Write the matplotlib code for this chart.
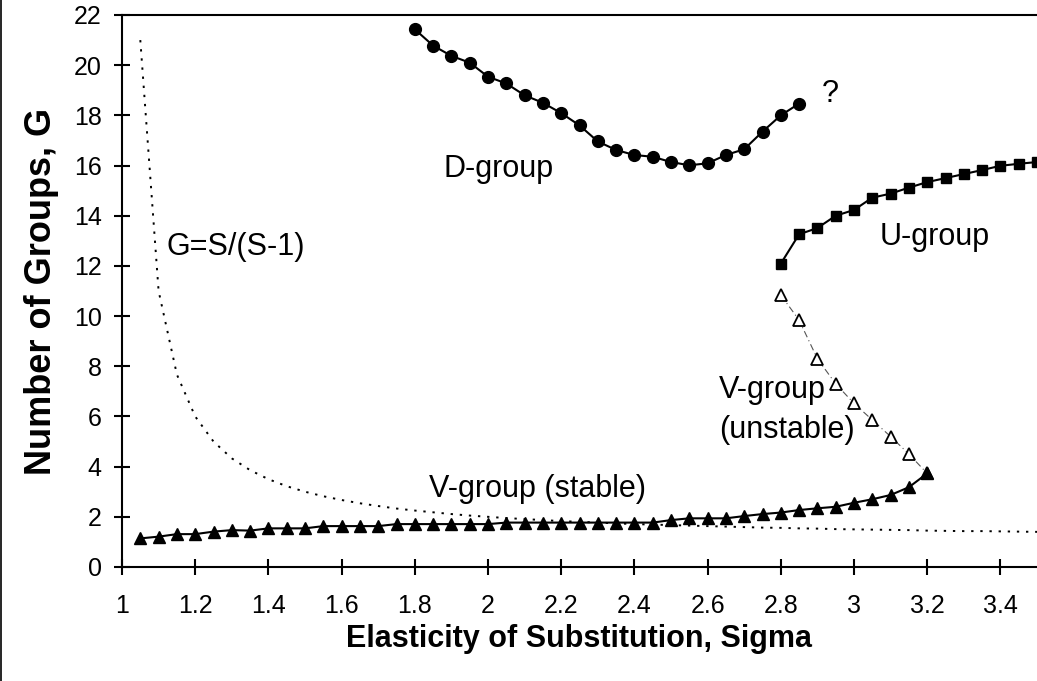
import numpy as np
import matplotlib
matplotlib.use('Agg')
import matplotlib.pyplot as plt
from matplotlib.lines import Line2D

plt.rcParams['font.family'] = ['Liberation Sans', 'DejaVu Sans']

# D-group (filled circles)
d_sigma = [1.80, 1.85, 1.90, 1.95, 2.00, 2.05, 2.10, 2.15, 2.20, 2.25, 2.30,
           2.35, 2.40, 2.45, 2.50, 2.55, 2.60, 2.65, 2.70, 2.75, 2.80, 2.85]
d_groups = [21.43, 20.78, 20.37, 20.10, 19.54, 19.27, 18.80, 18.50, 18.09, 17.60, 16.96,
            16.62, 16.42, 16.35, 16.14, 16.01, 16.09, 16.42, 16.65, 17.35, 18.00, 18.47]

# U-group (filled squares)
u_sigma = [2.80, 2.85, 2.90, 2.95, 3.00, 3.05, 3.10, 3.15, 3.20, 3.25, 3.30,
           3.35, 3.40, 3.45, 3.50]
u_groups = [12.09, 13.26, 13.51, 14.00, 14.23, 14.72, 14.88, 15.12, 15.34, 15.50, 15.66,
            15.82, 15.99, 16.07, 16.14]

# V-group stable (filled triangles)
vs_sigma = [1.05, 1.10, 1.15, 1.20, 1.25, 1.30, 1.35, 1.40, 1.45, 1.50, 1.55,
            1.60, 1.65, 1.70, 1.75, 1.80, 1.85, 1.90, 1.95, 2.00, 2.05, 2.10,
            2.15, 2.20, 2.25, 2.30, 2.35, 2.40, 2.45, 2.50, 2.55, 2.60, 2.65,
            2.70, 2.75, 2.80, 2.85, 2.90, 2.95, 3.00, 3.05, 3.10, 3.15, 3.20]
vs_groups = [1.14, 1.21, 1.31, 1.31, 1.41, 1.47, 1.45, 1.54, 1.54, 1.54, 1.63,
             1.63, 1.63, 1.63, 1.71, 1.71, 1.71, 1.71, 1.71, 1.71, 1.77, 1.77,
             1.77, 1.77, 1.77, 1.77, 1.77, 1.77, 1.77, 1.87, 1.94, 1.94, 1.94,
             2.03, 2.11, 2.17, 2.27, 2.34, 2.40, 2.56, 2.70, 2.87, 3.18, 3.73]

# V-group unstable (open triangles)
vu_sigma = [2.80, 2.85, 2.90, 2.95, 3.00, 3.05, 3.10, 3.15, 3.20]
vu_groups = [10.84, 9.84, 8.30, 7.30, 6.52, 5.86, 5.20, 4.50, 3.73]

# G = S/(S-1) curve
g_sigma = [1.05, 1.10, 1.15, 1.20, 1.25, 1.30, 1.35, 1.40, 1.45, 1.50, 1.55,
           1.60, 1.65, 1.70, 1.75, 1.80, 1.85, 1.90, 1.95, 2.00, 2.05, 2.10,
           2.15, 2.20, 2.25, 2.30, 2.35, 2.40, 2.45, 2.50, 2.55, 2.60, 2.65,
           2.70, 2.75, 2.80, 2.85, 2.90, 2.95, 3.00, 3.05, 3.10, 3.15, 3.20,
           3.25, 3.30, 3.35, 3.40, 3.45, 3.50]
g_groups = [21.0, 11.0, 7.67, 6.0, 5.0, 4.33, 3.86, 3.5, 3.22, 3.0, 2.82,
            2.67, 2.54, 2.43, 2.33, 2.25, 2.18, 2.11, 2.05, 2.0, 1.95, 1.91,
            1.87, 1.83, 1.8, 1.77, 1.74, 1.71, 1.69, 1.67, 1.65, 1.63, 1.61,
            1.59, 1.57, 1.56, 1.54, 1.53, 1.51, 1.5, 1.49, 1.48, 1.47, 1.45,
            1.44, 1.43, 1.43, 1.42, 1.41, 1.4]

xticks = [1, 1.2, 1.4, 1.6, 1.8, 2, 2.2, 2.4, 2.6, 2.8, 3, 3.2, 3.4]
xticklabels = ['1', '1.2', '1.4', '1.6', '1.8', '2', '2.2', '2.4', '2.6', '2.8', '3', '3.2', '3.4']
yticks = list(range(0, 23, 2))

fig = plt.figure(figsize=(10.37, 6.81), dpi=100)
ax = fig.add_axes([122 / 1037, 1 - 567 / 681, 915 / 1037, 552 / 681])

ax.plot(g_sigma, g_groups, color='black', lw=1.4, ls=(0, (1.2, 3.5)))
ax.plot(vu_sigma, vu_groups, color='#555555', lw=0.8, ls=(0, (6, 3, 1, 3)),
        marker='^', ms=8, mfc='white', mec='black', mew=1.3)
ax.plot(vs_sigma, vs_groups, color='black', lw=1.5, marker='^', ms=9)
ax.plot(u_sigma, u_groups, color='black', lw=1.5, marker='s', ms=6.5, clip_on=False)
ax.plot(d_sigma, d_groups, color='black', lw=1.5, marker='o', ms=8.5)

ax.set_xlim(1, 3.5)
ax.set_ylim(0, 22)
ax.set_xticks(xticks)
ax.set_xticklabels(xticklabels)
ax.set_yticks(yticks)
ax.tick_params(direction='inout', length=11.5, width=1.5, labelsize=18)
ax.tick_params(axis='x', pad=14)
ax.tick_params(axis='y', pad=9)
for side in ['left', 'bottom', 'top']:
    ax.spines[side].set_linewidth(1.5)
ax.spines['right'].set_visible(False)

ax.set_xlabel('Elasticity of Substitution, Sigma', fontsize=22, fontweight='bold')
ax.set_ylabel('Number of Groups, G', fontsize=26, fontweight='bold')
ax.xaxis.set_label_coords(0.5, -0.1025)
ax.yaxis.set_label_coords(-0.069, 0.50)

lab = dict(fontsize=22, color='black', va='baseline')
ax.text(1.878, 15.56, 'D-group', ha='left', **lab)
ax.text(2.911, 18.55, '?', ha='left', **lab)
ax.text(3.069, 12.83, 'U-group', ha='left', **lab)
ax.text(1.31, 12.45, 'G=S/(S-1)', ha='center', **lab)
ax.text(2.631, 6.74, 'V-group', ha='left', **lab)
ax.text(2.631, 5.14, '(unstable)', ha='left', **lab)
ax.text(2.134, 2.80, 'V-group (stable)', ha='center', **lab)

fig.add_artist(Line2D([0.0008, 0.0008], [0, 1], color='black', lw=1.2))

plt.savefig('out.png', dpi=100)
